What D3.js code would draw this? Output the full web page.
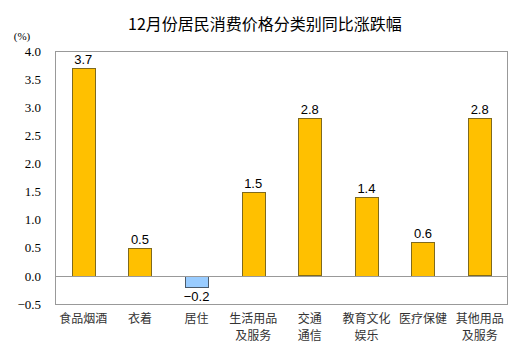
<!DOCTYPE html>
<html><head><meta charset="utf-8">
<script src="https://cdn.jsdelivr.net/npm/d3@7/dist/d3.min.js"></script>
<style>body{margin:0;background:#fff;}svg{display:block;}</style>
</head><body>
<script>
const categories = [["食品烟酒"],["衣着"],["居住"],["生活用品","及服务"],["交通","通信"],["教育文化","娱乐"],["医疗保健"],["其他用品","及服务"]];
const values = [3.7, 0.5, -0.2, 1.5, 2.8, 1.4, 0.6, 2.8];
const tickValues = [-0.5, 0.0, 0.5, 1.0, 1.5, 2.0, 2.5, 3.0, 3.5, 4.0];
const title = "12月份居民消费价格分类别同比涨跌幅";
const unit = "(%)";

const W = 531, H = 357;
const m = {left: 55, right: 23, top: 51, bottom: 53};
const svg = d3.select("body").append("svg").attr("width", W).attr("height", H);
const x = d3.scaleBand().domain(d3.range(values.length)).range([m.left, W - m.right]).paddingInner(0.59).paddingOuter(0.295);
const y = d3.scaleLinear().domain([-0.5, 4.0]).range([H - m.bottom, m.top]);

svg.append("text").attr("x", 265).attr("y", 30).attr("text-anchor", "middle")
  .attr("font-family", "'Noto Sans CJK SC', sans-serif").attr("font-size", 16).attr("fill", "#000").text(title);
svg.append("text").attr("x", 22).attr("y", 40).attr("text-anchor", "middle")
  .attr("font-family", "'Liberation Serif', serif").attr("font-size", 11).attr("fill", "#000").text(unit);

// plot area border
svg.append("rect").attr("x", m.left + 0.5).attr("y", m.top + 0.5)
  .attr("width", W - m.left - m.right - 1).attr("height", H - m.top - m.bottom)
  .attr("fill", "none").attr("stroke", "#999").attr("stroke-width", 1);

// y axis labels
const yAxis = d3.axisLeft(y).tickValues(tickValues).tickFormat(d3.format(".1f")).tickSize(0).tickPadding(14);
const ga = svg.append("g").attr("transform", `translate(${m.left},0)`).call(yAxis);
ga.select(".domain").remove();
ga.selectAll("text").attr("font-family", "'Liberation Serif', serif").attr("font-size", 13).attr("fill", "#000");

// bars
svg.selectAll("rect.bar").data(values).join("rect").attr("class", "bar")
  .attr("x", (d, i) => Math.round(x(i)) + 0.5)
  .attr("y", d => Math.round(y(Math.max(0, d))) + 0.5)
  .attr("width", Math.round(x.bandwidth()))
  .attr("height", d => Math.round(Math.abs(y(d) - y(0))))
  .attr("fill", d => d >= 0 ? "#FFC000" : "#99CCFF")
  .attr("stroke", d => d >= 0 ? "#7F6A1E" : "#4A5A6A").attr("stroke-width", 1);

// zero line
svg.append("line").attr("x1", m.left).attr("x2", W - m.right)
  .attr("y1", Math.round(y(0)) + 0.5).attr("y2", Math.round(y(0)) + 0.5)
  .attr("stroke", "#999").attr("stroke-width", 1);

// value labels
svg.selectAll("text.val").data(values).join("text").attr("class", "val")
  .attr("x", (d, i) => x(i) + x.bandwidth() / 2)
  .attr("y", d => d >= 0 ? y(d) - 4 : y(d) + 14)
  .attr("text-anchor", "middle").attr("font-family", "'Liberation Sans', Arial, sans-serif")
  .attr("font-size", 13).attr("fill", "#000").text(d => d3.format(".1f")(d));

// category labels
const cg = svg.selectAll("text.cat").data(categories).join("text").attr("class", "cat")
  .attr("text-anchor", "middle").attr("font-family", "'Noto Sans CJK SC', sans-serif")
  .attr("font-size", 12).attr("fill", "#333");
cg.each(function(lines, i) {
  const t = d3.select(this);
  lines.forEach((l, j) => t.append("tspan").attr("x", x(i) + x.bandwidth() / 2).attr("y", 323 + j * 17).text(l));
});
</script>
</body></html>
